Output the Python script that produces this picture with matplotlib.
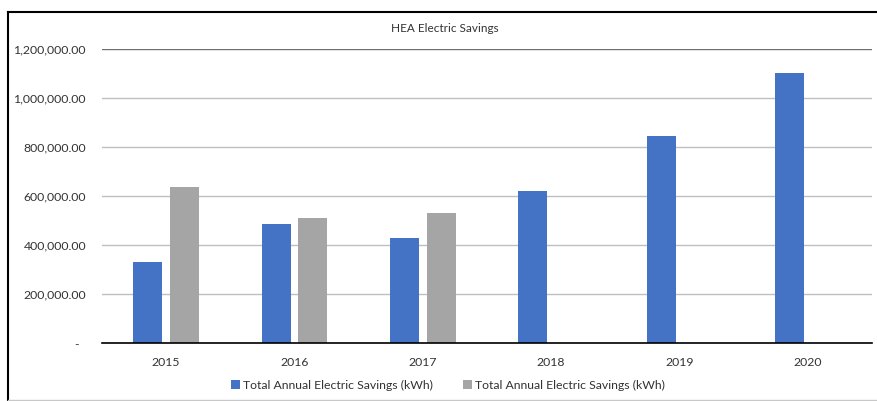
import numpy as np
import matplotlib.pyplot as plt
from matplotlib.lines import Line2D
from matplotlib.ticker import FuncFormatter

plt.rcParams['font.family'] = ['Lato', 'DejaVu Sans']

years = ['2015', '2016', '2017', '2018', '2019', '2020']
savings_a = [332000, 488000, 429000, 622000, 845000, 1103000]
savings_b = [639000, 513000, 531000, np.nan, np.nan, np.nan]
series_label = 'Total Annual Electric Savings (kWh)'

blue = '#4472C4'
gray = '#A5A5A5'
txt = '#333333'
fs = 8.8

W, H = 877, 401
fig = plt.figure(figsize=(W / 100, H / 100), dpi=100)
ax = fig.add_axes([102 / W, 1 - 343.3 / H, 770 / W, 294 / H])

x = np.arange(len(years))
bw = 0.226
off = 0.143
ax.bar(x - off, savings_a, bw, color=blue, label=series_label, zorder=3)
ax.bar(x + off, savings_b, bw, color=gray, label=series_label, zorder=3)

ax.set_xlim(-0.5, len(years) - 0.5)
ax.set_ylim(0, 1200000)
ax.set_yticks(np.arange(0, 1200001, 200000))
ax.set_xticks(x)
ax.set_xticklabels(years)


# accounting style: zero shown as a dash
def money(v, pos):
    if v == 0:
        return '-  '
    return '{:,.2f}'.format(v)


ax.yaxis.set_major_formatter(FuncFormatter(money))
ax.tick_params(axis='both', length=0, labelsize=fs, colors=txt)
ax.tick_params(axis='y', pad=11.5)
ax.tick_params(axis='x', pad=10)

for t in ax.get_yticks():
    c = '#707070' if t == 1200000 else '#BFBFBF'
    ax.axhline(t, color=c, lw=1, zorder=1)

for s in ['top', 'right', 'left']:
    ax.spines[s].set_visible(False)
ax.spines['bottom'].set_color('black')
ax.spines['bottom'].set_linewidth(1.2)
ax.spines['bottom'].set_zorder(4)

fig.text(445 / W, 1 - 28 / H, 'HEA Electric Savings', ha='center', va='center',
         fontsize=8.5, color=txt)

fig.legend(loc='center', bbox_to_anchor=(448 / W, 1 - 385 / H), ncol=2,
           frameon=False, fontsize=fs, handlelength=0.8, handleheight=0.8,
           handletextpad=0.25, columnspacing=2.4, labelcolor=txt)

# outer frame of the chart area
fig.add_artist(Line2D([8 / W, 1], [1 - 12 / H, 1 - 12 / H], color='black', lw=1.5,
                      transform=fig.transFigure))
fig.add_artist(Line2D([8 / W, 8 / W], [0, 1 - 12 / H], color='black', lw=1.5,
                      transform=fig.transFigure))
fig.add_artist(Line2D([8 / W, 1], [1.5 / H, 1.5 / H], color='#C8C8C8', lw=1,
                      transform=fig.transFigure))

fig.savefig('out.png', dpi=100)
